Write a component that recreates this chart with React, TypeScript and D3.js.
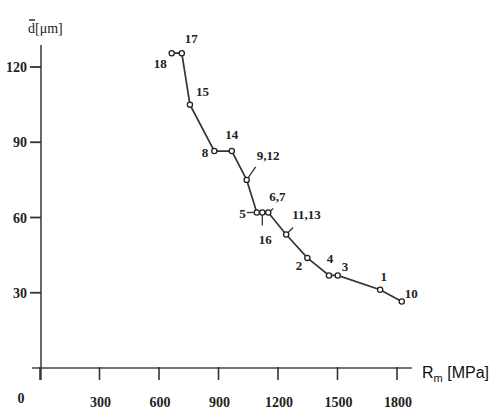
import React, { useEffect, useRef } from 'react';
import * as d3 from 'd3';

// sample numbers, in order of tensile strength
const pointLabels = ['18', '17', '15', '8', '14', '9,12', '5', '16', '6,7', '11,13', '2', '4', '3', '1', '10'];
const strength = [664, 715, 756, 879, 967, 1042, 1093, 1121, 1151, 1241, 1348, 1457, 1501, 1715, 1824];
const grainSize = [125.5, 125.5, 105, 86.5, 86.5, 75, 62, 62, 62, 53.2, 43.9, 36.9, 36.9, 31.2, 26.5];
const xTicks = [0, 300, 600, 900, 1200, 1500, 1800];
const yTicks = [30, 60, 90, 120];

// label placement relative to its point: dx, dy, anchor, optional leader end
const labelLayout: Record<string, { dx: number; dy: number; anchor: string; leader?: [number, number, number, number] }> = {
  '18': { dx: -5, dy: 15, anchor: 'end' },
  '17': { dx: 3, dy: -10, anchor: 'start' },
  '15': { dx: 6, dy: -8.5, anchor: 'start' },
  '8': { dx: -6, dy: 6, anchor: 'end' },
  '14': { dx: 0, dy: -12.5, anchor: 'middle' },
  '9,12': { dx: 10, dy: -20, anchor: 'start', leader: [0, 0, 9, -13] },
  '5': { dx: -11, dy: 6, anchor: 'end', leader: [-10, 0, -3, 0] },
  '16': { dx: 3, dy: 32, anchor: 'middle', leader: [0, 0, 0, 13] },
  '6,7': { dx: 1, dy: -11.5, anchor: 'start', leader: [0, 0, 5, -4] },
  '11,13': { dx: 6, dy: -16, anchor: 'start', leader: [0, 0, 7, -7] },
  '2': { dx: -5, dy: 12, anchor: 'end' },
  '4': { dx: 1, dy: -12.5, anchor: 'middle' },
  '3': { dx: 4, dy: -4.5, anchor: 'start' },
  '1': { dx: 3.5, dy: -9, anchor: 'middle' },
  '10': { dx: 3, dy: -3.5, anchor: 'start' },
};

const SERIF = "'Liberation Serif', 'DejaVu Serif', serif";

const App = () => {
  const ref = useRef<SVGSVGElement>(null);

  useEffect(() => {
    const svg = d3.select(ref.current);
    svg.selectAll('*').remove();

    const x = d3.scaleLinear().domain([0, 1800]).range([40, 397]);
    const y = d3.scaleLinear().domain([0, 120]).range([368, 67]);

    // axes
    svg.append('line')
      .attr('x1', x(0) + 1).attr('x2', x(0) + 1)
      .attr('y1', 45).attr('y2', y(0) + 12)
      .attr('stroke', '#444').attr('stroke-width', 1.6);
    svg.append('line')
      .attr('x1', 32).attr('x2', 412)
      .attr('y1', y(0)).attr('y2', y(0))
      .attr('stroke', '#444').attr('stroke-width', 1.6);

    // y ticks
    svg.selectAll('.ytick')
      .data(yTicks)
      .enter()
      .append('line')
      .attr('x1', x(0) - 10).attr('x2', x(0) + 1)
      .attr('y1', d => y(d)).attr('y2', d => y(d))
      .attr('stroke', '#333').attr('stroke-width', 1.8);
    svg.selectAll('.ylabel')
      .data(yTicks)
      .enter()
      .append('text')
      .attr('x', 27).attr('y', d => y(d) + 5)
      .attr('text-anchor', 'end')
      .style('font-family', SERIF).style('font-size', '14px')
      .style('font-weight', 'bold').attr('fill', '#222')
      .text(d => d);

    // x ticks
    svg.selectAll('.xtick')
      .data(xTicks)
      .enter()
      .append('line')
      .attr('x1', d => x(d)).attr('x2', d => x(d))
      .attr('y1', y(0) - 1).attr('y2', y(0) + 12)
      .attr('stroke', '#333').attr('stroke-width', 1.6);
    svg.selectAll('.xlabel')
      .data(xTicks)
      .enter()
      .append('text')
      .attr('x', d => (d === 0 ? 21 : x(d) + 1))
      .attr('y', d => (d === 0 ? 403 : 407))
      .attr('text-anchor', 'middle')
      .style('font-family', SERIF).style('font-size', '14px')
      .style('font-weight', 'bold').attr('fill', '#222')
      .text(d => d);

    // axis titles
    const yt = svg.append('text')
      .attr('x', 28).attr('y', 33)
      .style('font-family', SERIF).style('font-size', '14px').attr('fill', '#222');
    yt.append('tspan').text('d');
    yt.append('tspan').text('[μm]');
    svg.append('line')
      .attr('x1', 29).attr('x2', 35)
      .attr('y1', 20).attr('y2', 20)
      .attr('stroke', '#222').attr('stroke-width', 1.4);

    const xt = svg.append('text')
      .attr('x', 422).attr('y', 378)
      .style('font-family', "'Liberation Sans', Arial, sans-serif")
      .style('font-size', '16px').attr('fill', '#111');
    xt.append('tspan').text('R');
    xt.append('tspan').style('font-size', '11px').attr('dy', 4).text('m');
    xt.append('tspan').attr('dy', -4).text(' [MPa]');

    const data = strength.map((s, i) => ({ s, d: grainSize[i], label: pointLabels[i] }));

    // curve
    const line = d3.line<{ s: number; d: number }>()
      .x(d => x(d.s))
      .y(d => y(d.d));
    svg.append('path')
      .datum(data)
      .attr('d', line)
      .attr('fill', 'none')
      .attr('stroke', '#333')
      .attr('stroke-width', 1.7);

    // leaders
    svg.selectAll('.leader')
      .data(data.filter(d => labelLayout[d.label].leader))
      .enter()
      .append('line')
      .attr('x1', d => x(d.s) + labelLayout[d.label].leader![0])
      .attr('y1', d => y(d.d) + labelLayout[d.label].leader![1])
      .attr('x2', d => x(d.s) + labelLayout[d.label].leader![2])
      .attr('y2', d => y(d.d) + labelLayout[d.label].leader![3])
      .attr('stroke', '#333').attr('stroke-width', 1.3);

    // markers
    svg.selectAll('.pt')
      .data(data)
      .enter()
      .append('circle')
      .attr('cx', d => x(d.s))
      .attr('cy', d => y(d.d))
      .attr('r', 2.6)
      .attr('fill', 'white')
      .attr('stroke', '#222')
      .attr('stroke-width', 1.3);

    // point labels
    svg.selectAll('.plabel')
      .data(data)
      .enter()
      .append('text')
      .attr('x', d => x(d.s) + labelLayout[d.label].dx)
      .attr('y', d => y(d.d) + labelLayout[d.label].dy)
      .attr('text-anchor', d => labelLayout[d.label].anchor)
      .style('font-family', SERIF).style('font-size', '13px')
      .style('font-weight', 'bold').attr('fill', '#222')
      .text(d => d.label);
  }, []);

  return (
    <svg
      ref={ref}
      width={494}
      height={409}
      style={{ position: 'absolute', left: 0, top: 0, background: 'white' }}
    />
  );
};

export default App;
